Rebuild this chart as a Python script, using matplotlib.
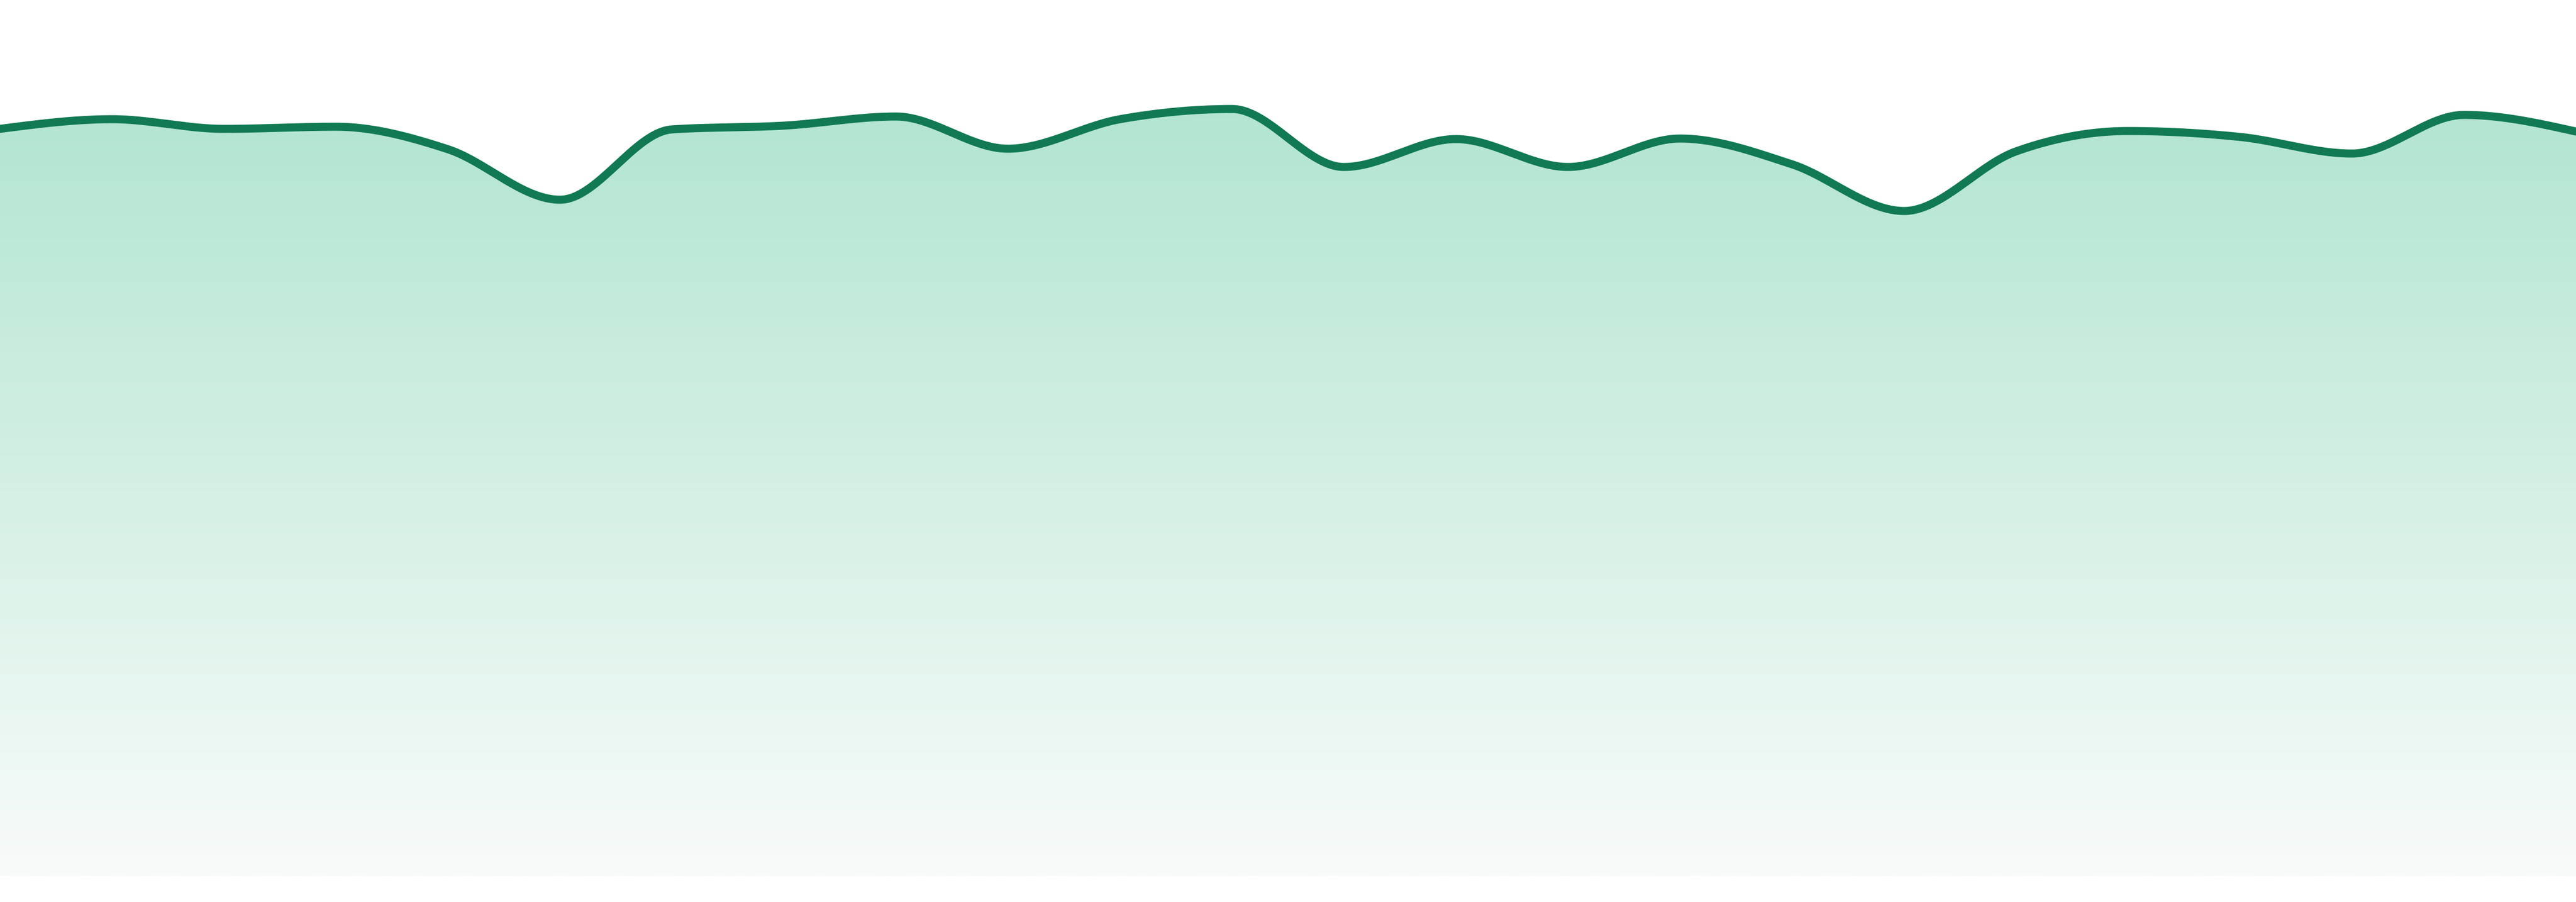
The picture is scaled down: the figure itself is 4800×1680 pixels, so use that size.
import numpy as np
import matplotlib
matplotlib.use("Agg")
import matplotlib.pyplot as plt
from matplotlib.patches import Polygon
from matplotlib.colors import LinearSegmentedColormap

# ---- data ----
points = list(range(24))
values = [139.2, 141.0, 139.2, 139.6, 135.4, 126.0, 139.1, 139.8,
          141.5, 135.5, 141.0, 142.9, 132.1, 137.3, 132.1, 137.4,
          132.6, 123.9, 135.0, 138.8, 137.7, 134.6, 141.8, 138.7]

line_color = "#117a52"
fill_top = "#b2e5d0"
fill_bottom = "#f8fbfa"


def monotone_x(x, y, n=60):
    """d3 curveMonotoneX-style interpolation (Fritsch-Carlson / Steffen)."""
    x = np.asarray(x, float)
    y = np.asarray(y, float)
    m = len(x)
    h = np.diff(x)
    s = np.diff(y) / h
    t = np.zeros(m)
    for i in range(1, m - 1):
        s0, s1 = s[i - 1], s[i]
        p = (s0 * h[i] + s1 * h[i - 1]) / (h[i - 1] + h[i])
        t[i] = (np.sign(s0) + np.sign(s1)) * min(abs(s0), abs(s1), 0.5 * abs(p))
    t[0] = (3 * s[0] - t[1]) / 2
    t[-1] = (3 * s[-1] - t[-2]) / 2
    xs, ys = [], []
    for i in range(m - 1):
        u = np.linspace(0, 1, n, endpoint=(i == m - 2))
        h00 = 2 * u**3 - 3 * u**2 + 1
        h10 = u**3 - 2 * u**2 + u
        h01 = -2 * u**3 + 3 * u**2
        h11 = u**3 - u**2
        xs.append(x[i] + u * h[i])
        ys.append(h00 * y[i] + h10 * h[i] * t[i] + h01 * y[i + 1] + h11 * h[i] * t[i + 1])
    return np.concatenate(xs), np.concatenate(ys)


fig = plt.figure(figsize=(16, 5.6), dpi=300)
ax = fig.add_axes([0, 0, 1, 1])
ax.set_axis_off()

cx, cy = monotone_x(points, values)

# gradient fill clipped to the area under the curve
cmap = LinearSegmentedColormap.from_list("g", [fill_bottom, fill_top])
grad_top = 143.2
grad = np.linspace(0, 1, 512).reshape(-1, 1)
im = ax.imshow(grad, extent=[points[0], points[-1], 0, grad_top], origin="lower",
               aspect="auto", cmap=cmap, interpolation="bilinear", zorder=1)
poly_xy = np.column_stack([np.r_[cx, cx[-1], cx[0]], np.r_[cy, 0, 0]])
poly = Polygon(poly_xy, closed=True, facecolor="none", edgecolor="none")
ax.add_patch(poly)
im.set_clip_path(poly)
# top part of fill above gradient top (if any) in top colour
ax.fill_between(cx, np.minimum(cy, grad_top), cy, where=cy > grad_top,
                color=fill_top, linewidth=0, zorder=1)

ax.plot(cx, cy, color=line_color, linewidth=3.6, solid_joinstyle="round",
        solid_capstyle="round", zorder=3)

ax.set_xlim(points[0], points[-1])
ax.set_ylim(-4.8, 163.2)

fig.savefig("out.png", dpi=300, facecolor="white")
